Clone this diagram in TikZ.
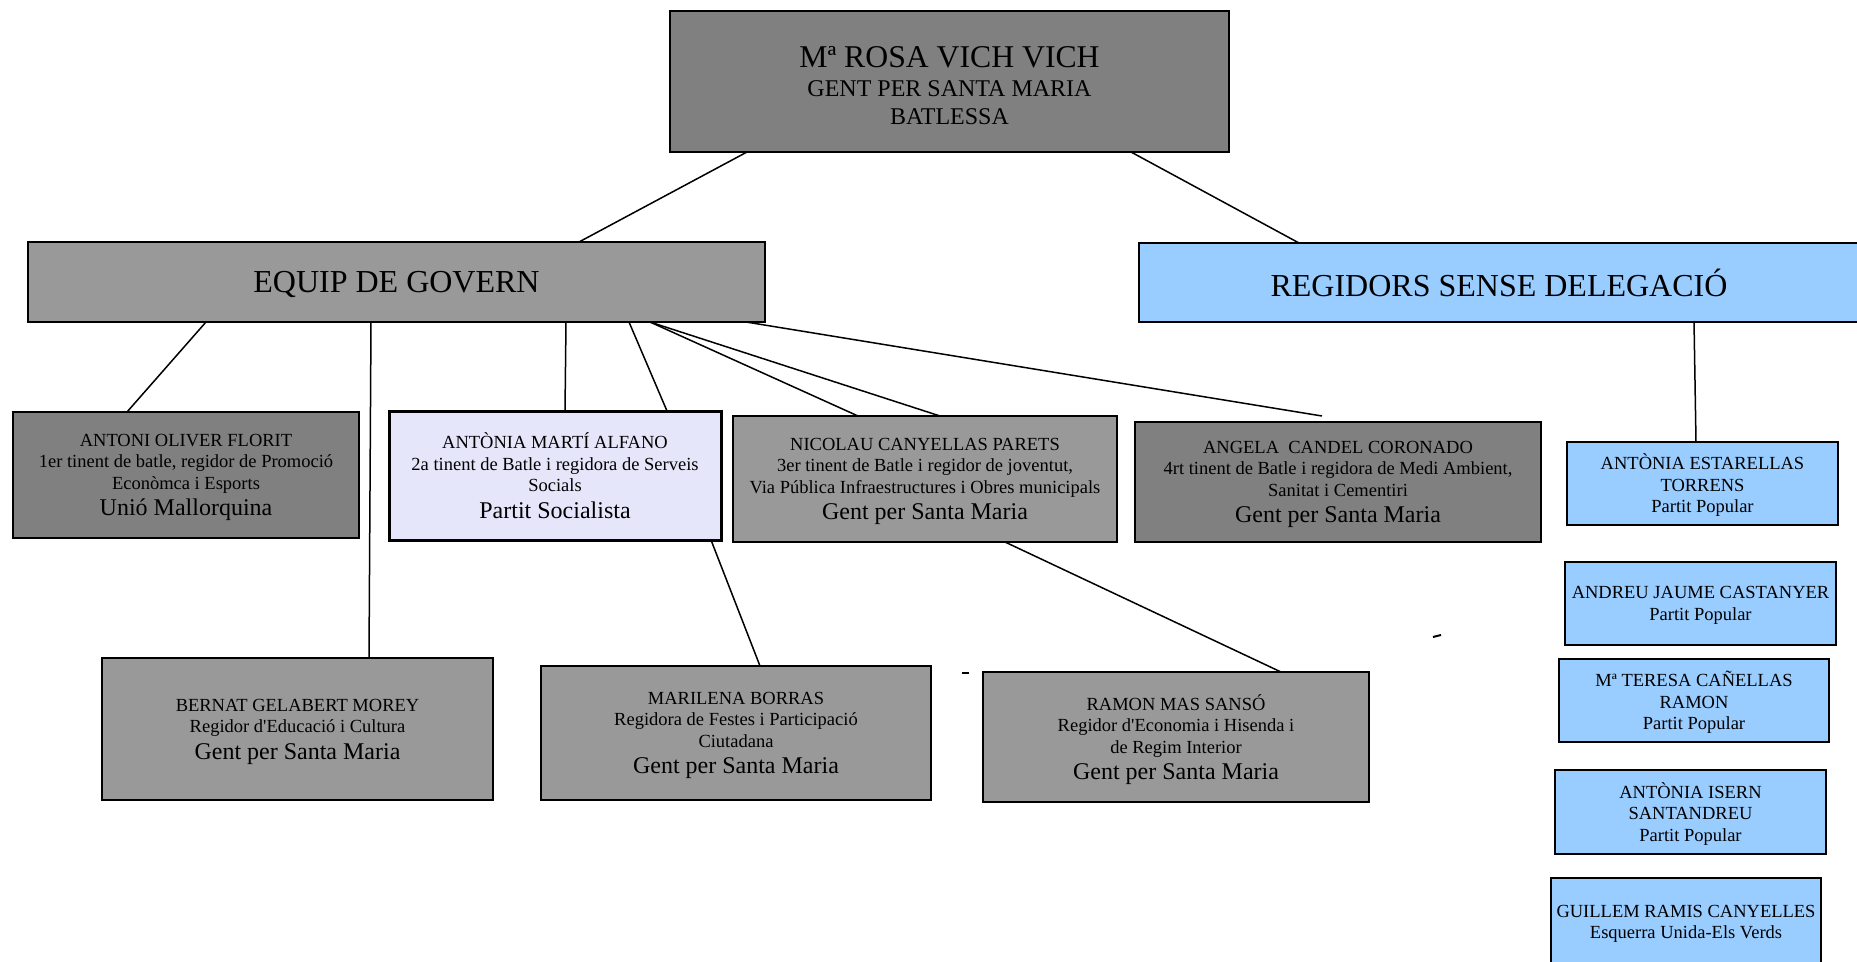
\documentclass[tikz,border=0pt]{standalone}
\usepackage{fontspec}
\setmainfont{Liberation Serif}
\definecolor{gA}{HTML}{808080}
\definecolor{gB}{HTML}{999999}
\definecolor{blueR}{HTML}{99CCFF}
\definecolor{lav}{HTML}{E6E6FA}
\tikzset{
  box/.style={draw=black, line width=2bp, rectangle, inner sep=0pt, outer sep=0pt, align=center, text=black,
    text depth=0bp, font=\fontsize{18.5bp}{21.5bp}\selectfont},
  conn/.style={draw=black, line width=1.5bp},
}
\newcommand\bigline[1]{{\fontsize{24bp}{27bp}\selectfont #1}}
\newcommand\apos{\textquotesingle}
\begin{document}
\begin{tikzpicture}[x=1bp,y=-1bp]
\useasboundingbox (0,0) rectangle (1857,961);
\clip (0,0) rectangle (1857,961);
% top
\node[box, fill=gA, minimum width=559bp, minimum height=141bp, font=\fontsize{24bp}{28.4bp}\selectfont] (top) at (949.5,81.5)
  {{\fontsize{31.7bp}{34bp}\selectfont\rule{0pt}{29bp}Mª ROSA VICH VICH}\\GENT PER SANTA MARIA\\BATLESSA};
\node[box, fill=gB, minimum width=737bp, minimum height=80bp, font=\fontsize{32bp}{36bp}\selectfont] (eq) at (396.5,282) {EQUIP DE GOVERN};
\node[box, fill=blueR, minimum width=720bp, minimum height=79bp, font=\fontsize{32bp}{36bp}\selectfont] (reg) at (1499,282.5) {REGIDORS SENSE DELEGACIÓ};
% row 1
\node[box, fill=gA, minimum width=346bp, minimum height=126bp] (antoni) at (186,475)
  {ANTONI OLIVER FLORIT\\1er tinent de batle, regidor de Promoció\\Econòmca i Esports\\[5bp]\bigline{Unió Mallorquina}};
\node[box, fill=lav, line width=3bp, minimum width=332bp, minimum height=129bp] (am) at (555,475.5)
  {ANTÒNIA MARTÍ ALFANO\\2a tinent de Batle i regidora de Serveis\\Socials\\[5bp]\bigline{Partit Socialista}};
\node[box, fill=gB, minimum width=384bp, minimum height=126bp] (nic) at (925,479)
  {NICOLAU CANYELLAS PARETS\\3er tinent de Batle i regidor de joventut,\\Via Pública Infraestructures i Obres municipals\\[5bp]\bigline{Gent per Santa Maria}};
\node[box, fill=gA, minimum width=406bp, minimum height=120bp] (angela) at (1338,482)
  {ANGELA\ \ CANDEL CORONADO\\4rt tinent de Batle i regidora de Medi Ambient,\\Sanitat i Cementiri\\[5bp]\bigline{Gent per Santa Maria}};
% row 2
\node[box, fill=gB, minimum width=391bp, minimum height=142bp] (bernat) at (297.5,729)
  {BERNAT GELABERT MOREY\\Regidor d\apos Educació i Cultura\\[5bp]\bigline{Gent per Santa Maria}};
\node[box, fill=gB, minimum width=390bp, minimum height=134bp] (marilena) at (736,733)
  {MARILENA BORRAS\\Regidora de Festes i Participació\\Ciutadana\\[5bp]\bigline{Gent per Santa Maria}};
\node[box, fill=gB, minimum width=386bp, minimum height=130bp] (ramon) at (1176,737)
  {RAMON MAS SANSÓ\\Regidor d\apos Economia i Hisenda i\\de Regim Interior\\[5bp]\bigline{Gent per Santa Maria}};
% right column
\node[box, fill=blueR, minimum width=271bp, minimum height=83bp] (estarellas) at (1702.5,483.5)
  {ANTÒNIA ESTARELLAS\\TORRENS\\Partit Popular};
\node[box, fill=blueR, minimum width=271bp, minimum height=83bp] (andreu) at (1700.5,603.5)
  {ANDREU JAUME CASTANYER\\Partit Popular};
\node[box, fill=blueR, minimum width=270bp, minimum height=83bp] (teresa) at (1694,700.5)
  {Mª TERESA CAÑELLAS\\RAMON\\Partit Popular};
\node[box, fill=blueR, minimum width=271bp, minimum height=84bp] (isern) at (1690.5,812)
  {ANTÒNIA ISERN\\SANTANDREU\\Partit Popular};
\node[box, fill=blueR, minimum width=270bp, minimum height=88bp] (guillem) at (1686,922)
  {GUILLEM RAMIS CANYELLES\\Esquerra Unida-Els Verds};
% connectors
\draw[conn] ([xshift=77bp]top.south west) -- ([xshift=551bp]eq.north west);
\draw[conn] ([xshift=-98bp]top.south east) -- ([xshift=160bp]reg.north west);
\draw[conn] ([xshift=178bp]eq.south west) -- ([xshift=114bp]antoni.north west);
\draw[conn] ([xshift=343bp]eq.south west) -- ([xshift=267bp]bernat.north west);
\draw[conn] ([xshift=538bp]eq.south west) -- ([xshift=176bp]am.north west);
\draw[conn] ([xshift=601bp]eq.south west) -- ([xshift=278bp]am.north west);
\draw[conn] ([xshift=622bp]eq.south west) -- ([xshift=125bp]nic.north west);
\draw[conn] ([xshift=622bp]eq.south west) -- ([xshift=207bp]nic.north west);
\draw[conn] ([xshift=-19bp]eq.south east) -- ([xshift=187bp,yshift=6bp]angela.north west);
\draw[conn] ([xshift=-10bp]am.south east) -- ([xshift=219bp]marilena.north west);
\draw[conn] ([xshift=272bp]nic.south west) -- ([xshift=298bp]ramon.north west);
\draw[conn] ([xshift=555bp,yshift=1bp]reg.south west) -- ([xshift=129bp]estarellas.north west);
% stray marks
\coordinate (m1a) at (962,673); \coordinate (m1b) at (969,673);
\coordinate (m2a) at (1433,637); \coordinate (m2b) at (1441,635);
\draw[line width=1.5bp] (m1a) -- (m1b);
\draw[line width=2bp] (m2a) -- (m2b);
\end{tikzpicture}
\end{document}
